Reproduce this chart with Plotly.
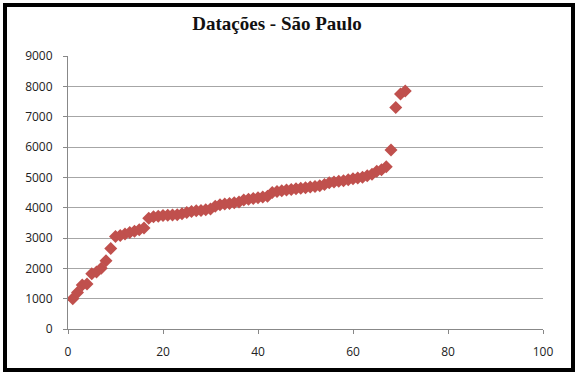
import plotly.graph_objects as go

x_vals = list(range(1, 72))
y_vals = [1000, 1200, 1450, 1480, 1820, 1880, 2000, 2250, 2650, 3050,
          3080, 3130, 3180, 3220, 3270, 3330, 3650, 3700, 3720, 3740,
          3750, 3760, 3770, 3800, 3840, 3870, 3900, 3910, 3930, 3960,
          4050, 4100, 4120, 4140, 4160, 4190, 4250, 4280, 4300, 4330,
          4350, 4380, 4500, 4530, 4560, 4580, 4600, 4620, 4640, 4660,
          4680, 4700, 4720, 4760, 4820, 4850, 4870, 4890, 4920, 4950,
          4980, 5000, 5050, 5100, 5200, 5250, 5350, 5900, 7300, 7750, 7850]

title_text = "<b>Datações - São Paulo</b>"

fig = go.Figure()
fig.add_trace(go.Scatter(
    x=x_vals, y=y_vals, mode="markers",
    marker=dict(symbol="diamond", size=10, color="#C0504D", line=dict(width=0)),
    showlegend=False,
))

L, R, T, B = 68, 35, 56, 46
W, H = 578, 375
pw, ph = W - L - R, H - T - B

def px(xp):
    return (xp - L) / pw

def py(yp):
    return (H - B - yp) / ph

fig.add_shape(type="rect", xref="paper", yref="paper",
              x0=px(5), x1=px(573), y0=py(370), y1=py(5),
              line=dict(color="black", width=4), fillcolor="rgba(0,0,0,0)",
              layer="above")

fig.update_layout(
    width=W, height=H,
    margin=dict(l=L, r=R, t=T, b=B),
    paper_bgcolor="white", plot_bgcolor="white",
    title=dict(text=title_text, x=277 / W, xref="container", xanchor="center",
               y=1 - 23 / H, yanchor="middle",
               font=dict(family="Liberation Serif", size=19, color="#111")),
    font=dict(family="Open Sans", size=12, color="#222"),
)
fig.update_xaxes(range=[0, 100], dtick=20, showgrid=False, zeroline=False,
                 showline=True, linecolor="#888", linewidth=1,
                 ticks="outside", ticklen=4, tickcolor="#888",
                 ticklabelstandoff=8,
                 tickfont=dict(family="Open Sans", size=12, color="#222"))
fig.update_yaxes(range=[0, 9000], dtick=1000, showgrid=True, gridcolor="#A6A6A6",
                 gridwidth=1, zeroline=False,
                 showline=True, linecolor="#888", linewidth=1,
                 ticks="outside", ticklen=4, tickcolor="#888",
                 ticklabelstandoff=8,
                 tickfont=dict(family="Open Sans", size=12, color="#222"))

fig.write_html("out.html", config={"displayModeBar": False},
               post_script="document.body.style.margin='0';")
